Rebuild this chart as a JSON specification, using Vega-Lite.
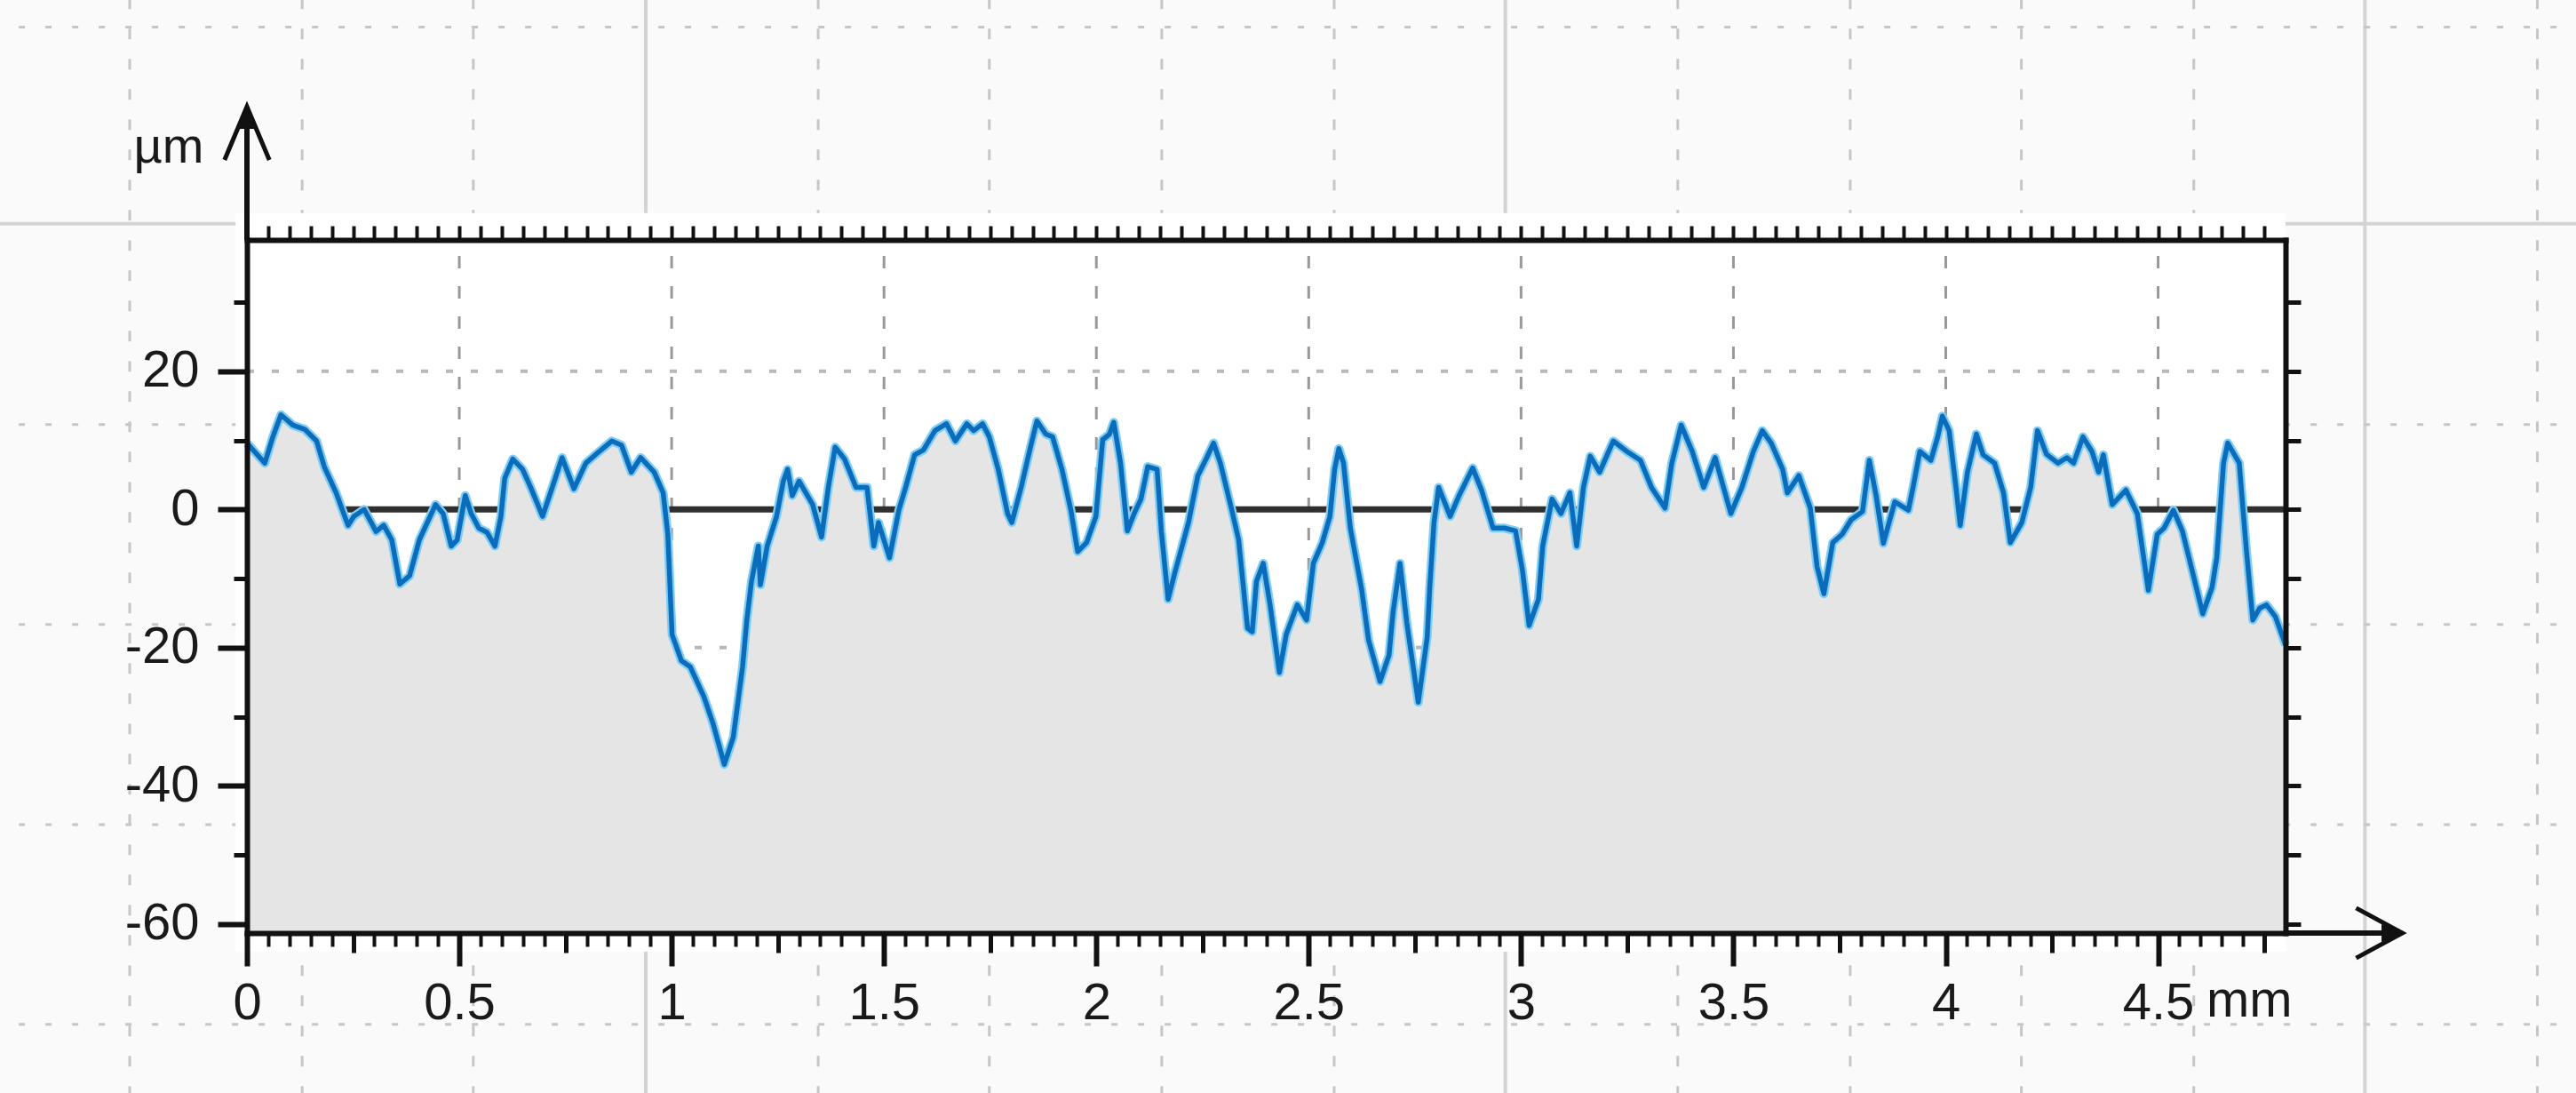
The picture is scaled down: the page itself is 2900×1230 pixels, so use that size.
{
  "$schema": "https://vega.github.io/schema/vega-lite/v6.json",
  "width": 2295,
  "height": 780,
  "autosize": {"type": "none"},
  "padding": {"left": 278, "top": 270, "right": 327, "bottom": 180},
  "background": "#fafafa",
  "config": {"view": {"stroke": null}, "font": "Liberation Sans", "axis": {"grid": false, "title": null}},
  "datasets": {
    "profile": [
      {"mm":0.0,"um":9.6},{"mm":0.042,"um":6.7},{"mm":0.061,"um":10.5},{"mm":0.08,"um":13.7},{"mm":0.108,"um":12.2},{"mm":0.136,"um":11.6},{"mm":0.164,"um":9.9},{"mm":0.182,"um":6.2},{"mm":0.21,"um":2.4},{"mm":0.238,"um":-2.3},{"mm":0.252,"um":-1.0},{"mm":0.276,"um":0.0},{"mm":0.304,"um":-3.2},{"mm":0.322,"um":-2.3},{"mm":0.341,"um":-4.4},{"mm":0.36,"um":-10.8},{"mm":0.383,"um":-9.6},{"mm":0.406,"um":-4.4},{"mm":0.444,"um":0.7},{"mm":0.462,"um":-0.6},{"mm":0.481,"um":-5.3},{"mm":0.495,"um":-4.4},{"mm":0.514,"um":2.0},{"mm":0.528,"um":-0.6},{"mm":0.546,"um":-2.7},{"mm":0.565,"um":-3.3},{"mm":0.584,"um":-5.3},{"mm":0.598,"um":-1.0},{"mm":0.607,"um":4.5},{"mm":0.626,"um":7.3},{"mm":0.649,"um":5.8},{"mm":0.668,"um":3.2},{"mm":0.696,"um":-1.0},{"mm":0.719,"um":3.2},{"mm":0.742,"um":7.5},{"mm":0.77,"um":3.0},{"mm":0.798,"um":6.7},{"mm":0.826,"um":8.2},{"mm":0.859,"um":9.9},{"mm":0.882,"um":9.3},{"mm":0.905,"um":5.4},{"mm":0.927,"um":7.5},{"mm":0.959,"um":5.4},{"mm":0.98,"um":2.4},{"mm":0.991,"um":-3.6},{"mm":1.001,"um":-18.1},{"mm":1.023,"um":-21.9},{"mm":1.044,"um":-22.8},{"mm":1.076,"um":-27.1},{"mm":1.097,"um":-30.9},{"mm":1.124,"um":-36.9},{"mm":1.145,"um":-33.0},{"mm":1.167,"um":-22.8},{"mm":1.177,"um":-16.0},{"mm":1.188,"um":-10.4},{"mm":1.204,"um":-5.3},{"mm":1.209,"um":-10.9},{"mm":1.225,"um":-5.3},{"mm":1.247,"um":-1.0},{"mm":1.263,"um":4.1},{"mm":1.273,"um":5.8},{"mm":1.284,"um":2.0},{"mm":1.3,"um":4.1},{"mm":1.332,"um":0.7},{"mm":1.353,"um":-4.0},{"mm":1.369,"um":3.2},{"mm":1.385,"um":9.0},{"mm":1.407,"um":7.3},{"mm":1.434,"um":3.2},{"mm":1.46,"um":3.2},{"mm":1.476,"um":-5.3},{"mm":1.487,"um":-1.9},{"mm":1.513,"um":-7.0},{"mm":1.535,"um":-0.1},{"mm":1.551,"um":3.2},{"mm":1.572,"um":7.9},{"mm":1.593,"um":8.6},{"mm":1.62,"um":11.4},{"mm":1.647,"um":12.4},{"mm":1.668,"um":9.9},{"mm":1.695,"um":12.4},{"mm":1.711,"um":11.4},{"mm":1.732,"um":12.4},{"mm":1.748,"um":10.5},{"mm":1.769,"um":5.8},{"mm":1.791,"um":-0.6},{"mm":1.801,"um":-1.9},{"mm":1.823,"um":3.2},{"mm":1.844,"um":8.8},{"mm":1.86,"um":12.8},{"mm":1.881,"um":10.9},{"mm":1.897,"um":10.5},{"mm":1.919,"um":5.8},{"mm":1.94,"um":-0.1},{"mm":1.956,"um":-6.1},{"mm":1.977,"um":-4.8},{"mm":1.999,"um":-1.0},{"mm":2.015,"um":10.1},{"mm":2.031,"um":10.9},{"mm":2.041,"um":12.6},{"mm":2.057,"um":6.7},{"mm":2.073,"um":-3.1},{"mm":2.089,"um":-0.6},{"mm":2.105,"um":1.5},{"mm":2.121,"um":6.2},{"mm":2.143,"um":5.8},{"mm":2.153,"um":-3.1},{"mm":2.169,"um":-13.0},{"mm":2.185,"um":-9.1},{"mm":2.217,"um":-1.9},{"mm":2.239,"um":4.9},{"mm":2.26,"um":7.5},{"mm":2.276,"um":9.6},{"mm":2.292,"um":6.7},{"mm":2.319,"um":-0.1},{"mm":2.335,"um":-4.4},{"mm":2.356,"um":-17.2},{"mm":2.367,"um":-17.7},{"mm":2.377,"um":-10.4},{"mm":2.393,"um":-7.8},{"mm":2.409,"um":-13.8},{"mm":2.431,"um":-23.6},{"mm":2.447,"um":-18.1},{"mm":2.473,"um":-13.8},{"mm":2.495,"um":-16.0},{"mm":2.511,"um":-7.8},{"mm":2.532,"um":-4.8},{"mm":2.55,"um":-1.0},{"mm":2.561,"um":5.8},{"mm":2.571,"um":8.8},{"mm":2.582,"um":6.7},{"mm":2.598,"um":-2.7},{"mm":2.625,"um":-11.7},{"mm":2.641,"um":-18.9},{"mm":2.668,"um":-24.9},{"mm":2.689,"um":-21.1},{"mm":2.699,"um":-14.7},{"mm":2.715,"um":-7.8},{"mm":2.731,"um":-16.4},{"mm":2.758,"um":-27.9},{"mm":2.779,"um":-18.5},{"mm":2.785,"um":-11.3},{"mm":2.795,"um":-1.9},{"mm":2.806,"um":3.2},{"mm":2.833,"um":-1.0},{"mm":2.854,"um":2.0},{"mm":2.886,"um":6.0},{"mm":2.907,"um":2.8},{"mm":2.934,"um":-2.7},{"mm":2.961,"um":-2.7},{"mm":2.987,"um":-3.1},{"mm":3.003,"um":-8.7},{"mm":3.019,"um":-16.8},{"mm":3.041,"um":-13.0},{"mm":3.051,"um":-5.3},{"mm":3.073,"um":1.5},{"mm":3.094,"um":-0.6},{"mm":3.115,"um":2.4},{"mm":3.131,"um":-5.3},{"mm":3.147,"um":3.2},{"mm":3.163,"um":7.7},{"mm":3.185,"um":5.4},{"mm":3.217,"um":9.9},{"mm":3.249,"um":8.4},{"mm":3.281,"um":7.1},{"mm":3.307,"um":3.2},{"mm":3.339,"um":0.2},{"mm":3.355,"um":6.7},{"mm":3.377,"um":12.2},{"mm":3.403,"um":8.4},{"mm":3.43,"um":3.2},{"mm":3.457,"um":7.5},{"mm":3.494,"um":-0.6},{"mm":3.52,"um":3.2},{"mm":3.547,"um":8.4},{"mm":3.568,"um":11.4},{"mm":3.589,"um":9.6},{"mm":3.616,"um":5.8},{"mm":3.627,"um":2.4},{"mm":3.654,"um":4.9},{"mm":3.681,"um":0.2},{"mm":3.697,"um":-8.3},{"mm":3.713,"um":-12.2},{"mm":3.734,"um":-4.8},{"mm":3.756,"um":-3.6},{"mm":3.777,"um":-1.5},{"mm":3.804,"um":-0.3},{"mm":3.82,"um":7.1},{"mm":3.836,"um":2.0},{"mm":3.853,"um":-4.9},{"mm":3.88,"um":1.1},{"mm":3.912,"um":-0.1},{"mm":3.923,"um":3.2},{"mm":3.939,"um":8.4},{"mm":3.965,"um":7.1},{"mm":3.981,"um":10.5},{"mm":3.992,"um":13.5},{"mm":4.008,"um":11.4},{"mm":4.024,"um":3.2},{"mm":4.034,"um":-2.3},{"mm":4.051,"um":5.4},{"mm":4.072,"um":10.9},{"mm":4.088,"um":7.9},{"mm":4.115,"um":6.7},{"mm":4.136,"um":2.4},{"mm":4.152,"um":-4.8},{"mm":4.179,"um":-1.9},{"mm":4.2,"um":3.2},{"mm":4.216,"um":11.4},{"mm":4.237,"um":8.0},{"mm":4.264,"um":6.7},{"mm":4.285,"um":7.5},{"mm":4.301,"um":6.7},{"mm":4.323,"um":10.5},{"mm":4.344,"um":8.4},{"mm":4.36,"um":5.4},{"mm":4.371,"um":7.9},{"mm":4.392,"um":0.7},{"mm":4.424,"um":2.8},{"mm":4.451,"um":-0.6},{"mm":4.477,"um":-11.7},{"mm":4.498,"um":-3.6},{"mm":4.514,"um":-2.7},{"mm":4.536,"um":-0.1},{"mm":4.557,"um":-3.1},{"mm":4.578,"um":-8.3},{"mm":4.605,"um":-15.1},{"mm":4.627,"um":-11.3},{"mm":4.638,"um":-7.0},{"mm":4.654,"um":6.7},{"mm":4.664,"um":9.6},{"mm":4.691,"um":6.7},{"mm":4.707,"um":-5.3},{"mm":4.723,"um":-16.0},{"mm":4.739,"um":-14.3},{"mm":4.755,"um":-13.8},{"mm":4.776,"um":-15.5},{"mm":4.8,"um":-19.6}
    ],
    "bgV": [{"x":-0.276},{"x":0.13},{"x":0.533},{"x":1.345},{"x":1.748},{"x":2.154},{"x":2.56},{"x":3.369},{"x":3.775},{"x":4.178},{"x":4.584},{"x":5.393}],
    "bgVs": [{"x":0.939},{"x":2.963},{"x":4.987}],
    "bgH": [{"y":69.8},{"y":12.28},{"y":-16.66},{"y":-45.6},{"y":-74.5}],
    "gridX": [{"x":0.5},{"x":1},{"x":1.5},{"x":2},{"x":2.5},{"x":3},{"x":3.5},{"x":4},{"x":4.5}],
    "gridY": [{"y":20},{"y":-20},{"y":-40}],
    "one": [{}]
  },
  "resolve": {"axis": {"x": "independent", "y": "independent"}},
  "layer": [
    {
      "data": {"name": "bgV"},
      "mark": {"type": "rule", "stroke": "#c6c6c6", "strokeWidth": 3, "strokeDash": [12, 22]},
      "encoding": {
        "x": {"field": "x", "type": "quantitative", "scale": {"domain": [0, 4.8], "nice": false, "zero": false}, "axis": null},
        "y": {"datum": -85, "scale": {"domain": [-61.3, 39], "nice": false, "zero": false}, "axis": null},
        "y2": {"datum": 74}
      }
    },
    {
      "data": {"name": "bgVs"},
      "mark": {"type": "rule", "stroke": "#d3d3d3", "strokeWidth": 4},
      "encoding": {
        "x": {"field": "x", "type": "quantitative", "scale": {"domain": [0, 4.8], "nice": false, "zero": false}, "axis": null},
        "y": {"datum": -85, "scale": {"domain": [-61.3, 39], "nice": false, "zero": false}, "axis": null},
        "y2": {"datum": 74}
      }
    },
    {
      "data": {"name": "bgH"},
      "mark": {"type": "rule", "stroke": "#c6c6c6", "strokeWidth": 3, "strokeDash": [7, 23]},
      "encoding": {
        "y": {"field": "y", "type": "quantitative", "scale": {"domain": [-61.3, 39], "nice": false, "zero": false}, "axis": null},
        "x": {"datum": -0.6, "scale": {"domain": [0, 4.8], "nice": false, "zero": false}, "axis": null},
        "x2": {"datum": 5.5}
      }
    },
    {
      "data": {"name": "one"},
      "mark": {"type": "rule", "stroke": "#d3d3d3", "strokeWidth": 4},
      "encoding": {
        "y": {"datum": 41.35, "scale": {"domain": [-61.3, 39], "nice": false, "zero": false}, "axis": null},
        "x": {"datum": -0.6, "scale": {"domain": [0, 4.8], "nice": false, "zero": false}, "axis": null},
        "x2": {"datum": 5.5}
      }
    },
    {
      "data": {"name": "one"},
      "mark": {"type": "rect", "fill": "#ffffff"},
      "encoding": {
        "x": {"datum": -0.027, "scale": {"domain": [0, 4.8], "nice": false, "zero": false}, "axis": null},
        "x2": {"datum": 4.8},
        "y": {"datum": -64, "scale": {"domain": [-61.3, 39], "nice": false, "zero": false}, "axis": null},
        "y2": {"datum": 42.9}
      }
    },
    {
      "data": {"name": "gridX"},
      "mark": {"type": "rule", "stroke": "#999999", "strokeWidth": 3, "strokeDash": [14, 20]},
      "encoding": {
        "x": {"field": "x", "type": "quantitative", "scale": {"domain": [0, 4.8], "nice": false, "zero": false}, "axis": null},
        "y": {"datum": -61.3, "scale": {"domain": [-61.3, 39], "nice": false, "zero": false}, "axis": null},
        "y2": {"datum": 39}
      }
    },
    {
      "data": {"name": "gridY"},
      "mark": {"type": "rule", "stroke": "#b9b9b9", "strokeWidth": 4, "strokeDash": [8, 20]},
      "encoding": {
        "y": {"field": "y", "type": "quantitative", "scale": {"domain": [-61.3, 39], "nice": false, "zero": false}, "axis": null},
        "x": {"datum": 0, "scale": {"domain": [0, 4.8], "nice": false, "zero": false}, "axis": null},
        "x2": {"datum": 4.8}
      }
    },
    {
      "data": {"name": "one"},
      "mark": {"type": "rule", "stroke": "#2f2f2f", "strokeWidth": 7},
      "encoding": {
        "y": {"datum": 0, "scale": {"domain": [-61.3, 39], "nice": false, "zero": false}, "axis": null},
        "x": {"datum": 0, "scale": {"domain": [0, 4.8], "nice": false, "zero": false}, "axis": null},
        "x2": {"datum": 4.8}
      }
    },
    {
      "data": {"name": "profile"},
      "mark": {"type": "area", "fill": "#e5e5e5", "opacity": 1},
      "encoding": {
        "x": {"field": "mm", "type": "quantitative", "scale": {"domain": [0, 4.8], "nice": false, "zero": false},
          "axis": {"orient": "bottom", "values": [0, 0.5, 1, 1.5, 2, 2.5, 3, 3.5, 4, 4.5], "labelExpr": "'' + datum.value",
            "tickSize": 37, "tickWidth": 6, "tickColor": "#111111", "domain": true, "domainColor": "#111111", "domainWidth": 6, "domainCap": "square",
            "labelFont": "Liberation Sans", "labelFontSize": 58, "labelColor": "#1a1a1a", "labelPadding": 13,
            "labelOverlap": false, "labelFlush": false, "labelBound": false, "grid": false, "title": null, "zindex": 2}},
        "y": {"field": "um", "type": "quantitative", "scale": {"domain": [-61.3, 39], "nice": false, "zero": false},
          "axis": {"orient": "left", "values": [-60, -40, -20, 0, 20], "labelExpr": "'' + datum.value",
            "tickSize": 33, "tickWidth": 6, "tickColor": "#111111", "domain": true, "domainColor": "#111111", "domainWidth": 6, "domainCap": "square",
            "labelFont": "Liberation Sans", "labelFontSize": 58, "labelColor": "#1a1a1a", "labelPadding": 21,
            "labelOverlap": false, "labelFlush": false, "labelBound": false, "grid": false, "title": null, "zindex": 2}},
        "y2": {"datum": -61.3}
      }
    },
    {
      "data": {"name": "profile"},
      "mark": {"type": "line", "stroke": "#7fcdf2", "strokeWidth": 10, "strokeJoin": "round"},
      "encoding": {
        "x": {"field": "mm", "type": "quantitative", "scale": {"domain": [0, 4.8], "nice": false, "zero": false},
          "axis": {"orient": "bottom", "values": [0,0.05,0.1,0.15,0.2,0.25,0.3,0.35,0.4,0.45,0.5,0.55,0.6,0.65,0.7,0.75,0.8,0.85,0.9,0.95,1,1.05,1.1,1.15,1.2,1.25,1.3,1.35,1.4,1.45,1.5,1.55,1.6,1.65,1.7,1.75,1.8,1.85,1.9,1.95,2,2.05,2.1,2.15,2.2,2.25,2.3,2.35,2.4,2.45,2.5,2.55,2.6,2.65,2.7,2.75,2.8,2.85,2.9,2.95,3,3.05,3.1,3.15,3.2,3.25,3.3,3.35,3.4,3.45,3.5,3.55,3.6,3.65,3.7,3.75,3.8,3.85,3.9,3.95,4,4.05,4.1,4.15,4.2,4.25,4.3,4.35,4.4,4.45,4.5,4.55,4.6,4.65,4.7,4.75],
            "tickSize": 15, "tickWidth": 4, "tickColor": "#111111", "domain": false, "labels": false, "grid": false, "title": null, "zindex": 2}},
        "y": {"field": "um", "type": "quantitative", "scale": {"domain": [-61.3, 39], "nice": false, "zero": false},
          "axis": {"orient": "left", "values": [-50, -30, -10, 10, 30], "tickSize": 15, "tickWidth": 5, "tickColor": "#111111",
            "domain": false, "labels": false, "grid": false, "title": null, "zindex": 2}}
      }
    },
    {
      "data": {"name": "profile"},
      "mark": {"type": "line", "stroke": "#0a6cbb", "strokeWidth": 5.5, "strokeJoin": "round"},
      "encoding": {
        "x": {"field": "mm", "type": "quantitative", "scale": {"domain": [0, 4.8], "nice": false, "zero": false},
          "axis": {"orient": "top", "values": [0.05,0.1,0.15,0.2,0.25,0.3,0.35,0.4,0.45,0.5,0.55,0.6,0.65,0.7,0.75,0.8,0.85,0.9,0.95,1,1.05,1.1,1.15,1.2,1.25,1.3,1.35,1.4,1.45,1.5,1.55,1.6,1.65,1.7,1.75,1.8,1.85,1.9,1.95,2,2.05,2.1,2.15,2.2,2.25,2.3,2.35,2.4,2.45,2.5,2.55,2.6,2.65,2.7,2.75,2.8,2.85,2.9,2.95,3,3.05,3.1,3.15,3.2,3.25,3.3,3.35,3.4,3.45,3.5,3.55,3.6,3.65,3.7,3.75,3.8,3.85,3.9,3.95,4,4.05,4.1,4.15,4.2,4.25,4.3,4.35,4.4,4.45,4.5,4.55,4.6,4.65,4.7,4.75],
            "tickSize": 16, "tickWidth": 4, "tickColor": "#111111", "domain": true, "domainColor": "#111111", "domainWidth": 6, "domainCap": "square",
            "labels": false, "grid": false, "title": null, "zindex": 2}},
        "y": {"field": "um", "type": "quantitative", "scale": {"domain": [-61.3, 39], "nice": false, "zero": false},
          "axis": {"orient": "right", "values": [-60, -50, -40, -30, -20, -10, 0, 10, 20, 30], "tickSize": 17, "tickWidth": 5, "tickColor": "#111111",
            "domain": true, "domainColor": "#111111", "domainWidth": 6, "domainCap": "square", "labels": false, "grid": false, "title": null, "zindex": 2}}
      }
    },
    {
      "data": {"name": "profile"},
      "mark": {"type": "point", "opacity": 0},
      "encoding": {
        "x": {"field": "mm", "type": "quantitative", "scale": {"domain": [0, 4.8], "nice": false, "zero": false},
          "axis": {"orient": "bottom", "values": [0.25, 0.75, 1.25, 1.75, 2.25, 2.75, 3.25, 3.75, 4.25, 4.75],
            "tickSize": 22, "tickWidth": 5, "tickColor": "#111111", "domain": false, "labels": false, "grid": false, "title": null, "zindex": 2}},
        "y": {"field": "um", "type": "quantitative", "scale": {"domain": [-61.3, 39], "nice": false, "zero": false}, "axis": null}
      }
    },
    {
      "data": {"name": "one"},
      "mark": {"type": "rule", "stroke": "#111111", "strokeWidth": 6},
      "encoding": {
        "x": {"datum": 0, "scale": {"domain": [0, 4.8], "nice": false, "zero": false}, "axis": null},
        "y": {"datum": 39, "scale": {"domain": [-61.3, 39], "nice": false, "zero": false}, "axis": null},
        "y2": {"datum": 58.3}
      }
    },
    {
      "data": {"name": "one"},
      "mark": {"type": "rule", "stroke": "#111111", "strokeWidth": 6},
      "encoding": {
        "y": {"datum": -61.3, "scale": {"domain": [-61.3, 39], "nice": false, "zero": false}, "axis": null},
        "x": {"datum": 4.8, "scale": {"domain": [0, 4.8], "nice": false, "zero": false}, "axis": null},
        "x2": {"datum": 5.075}
      }
    },
    {
      "data": {"name": "one"},
      "mark": {"type": "point", "shape": "M-0.42,1L0,0L0.42,1", "size": 14400, "filled": false, "stroke": "#111111", "strokeWidth": 5, "opacity": 1},
      "encoding": {
        "x": {"datum": 0, "scale": {"domain": [0, 4.8], "nice": false, "zero": false}, "axis": null},
        "y": {"datum": 58.3, "scale": {"domain": [-61.3, 39], "nice": false, "zero": false}, "axis": null}
      }
    },
    {
      "data": {"name": "one"},
      "mark": {"type": "point", "shape": "M0,0L-0.17,0.42L0.17,0.42Z", "size": 14400, "filled": true, "fill": "#111111", "opacity": 1},
      "encoding": {
        "x": {"datum": 0, "scale": {"domain": [0, 4.8], "nice": false, "zero": false}, "axis": null},
        "y": {"datum": 58.3, "scale": {"domain": [-61.3, 39], "nice": false, "zero": false}, "axis": null}
      }
    },
    {
      "data": {"name": "one"},
      "mark": {"type": "point", "shape": "M-1,-0.54L0,0L-1,0.54", "size": 10816, "filled": false, "stroke": "#111111", "strokeWidth": 5, "opacity": 1},
      "encoding": {
        "x": {"datum": 5.075, "scale": {"domain": [0, 4.8], "nice": false, "zero": false}, "axis": null},
        "y": {"datum": -61.3, "scale": {"domain": [-61.3, 39], "nice": false, "zero": false}, "axis": null}
      }
    },
    {
      "data": {"name": "one"},
      "mark": {"type": "point", "shape": "M0,0L-0.45,-0.19L-0.45,0.19Z", "size": 10816, "filled": true, "fill": "#111111", "opacity": 1},
      "encoding": {
        "x": {"datum": 5.075, "scale": {"domain": [0, 4.8], "nice": false, "zero": false}, "axis": null},
        "y": {"datum": -61.3, "scale": {"domain": [-61.3, 39], "nice": false, "zero": false}, "axis": null}
      }
    },
    {
      "data": {"name": "one"},
      "mark": {"type": "text", "text": "µm", "font": "Liberation Sans", "fontSize": 56, "color": "#1a1a1a", "align": "center", "baseline": "alphabetic"},
      "encoding": {
        "x": {"datum": -0.184, "scale": {"domain": [0, 4.8], "nice": false, "zero": false}, "axis": null},
        "y": {"datum": 50.2, "scale": {"domain": [-61.3, 39], "nice": false, "zero": false}, "axis": null}
      }
    },
    {
      "data": {"name": "one"},
      "mark": {"type": "text", "text": "mm", "font": "Liberation Sans", "fontSize": 58, "color": "#1a1a1a", "align": "center", "baseline": "alphabetic"},
      "encoding": {
        "x": {"datum": 4.715, "scale": {"domain": [0, 4.8], "nice": false, "zero": false}, "axis": null},
        "y": {"datum": -73.4, "scale": {"domain": [-61.3, 39], "nice": false, "zero": false}, "axis": null}
      }
    }
  ]
}
